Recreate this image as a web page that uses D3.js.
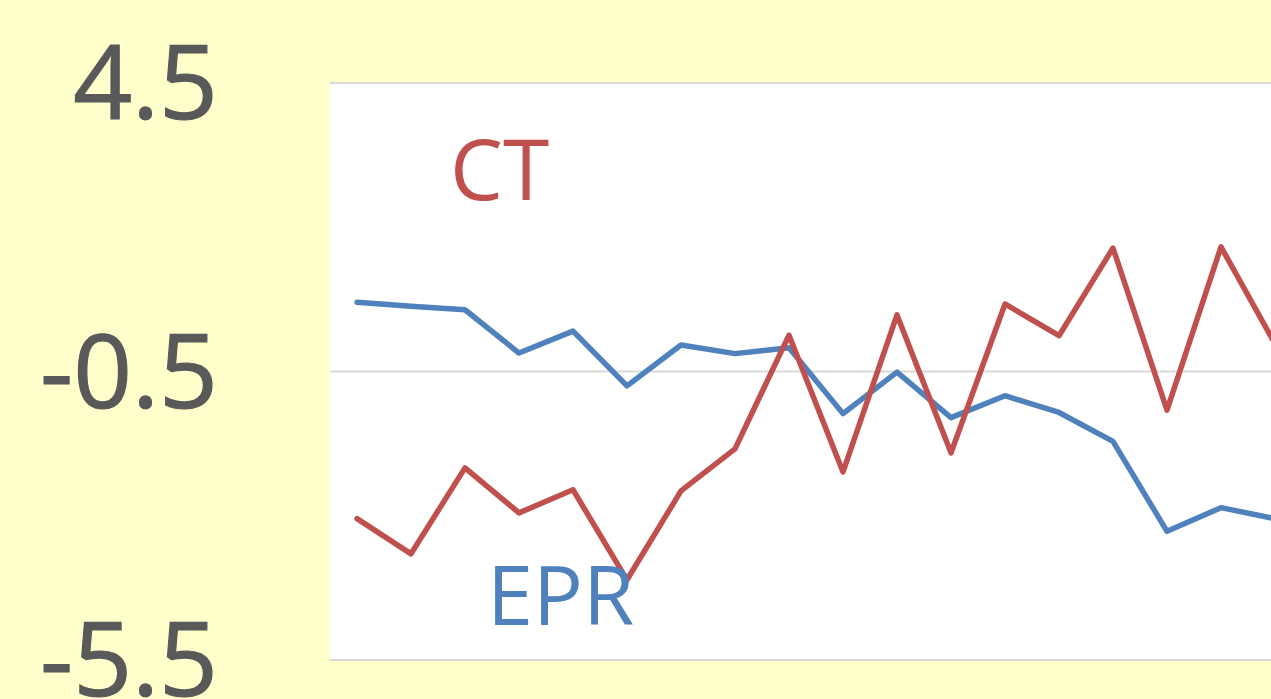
<!DOCTYPE html>
<html><head><meta charset="utf-8">
<script src="https://cdn.jsdelivr.net/npm/d3@7/dist/d3.min.js"></script>
<style>html,body{margin:0;padding:0;background:#FFFFCC;overflow:hidden}</style>
</head><body>
<svg id="c" width="1271" height="699"></svg>
<script>
const categories = ["1","2","3","4","5","6","7","8","9","10","11","12","13","14","15","16","17","18"];
const eprValues = [0.70,0.63,0.57,-0.18,0.20,-0.75,-0.04,-0.19,-0.09,-1.23,-0.51,-1.30,-0.92,-1.21,-1.71,-3.27,-2.86,-3.05];
const ctValues  = [-3.05,-3.66,-2.17,-2.95,-2.55,-4.11,-2.57,-1.84,0.13,-2.24,0.48,-1.91,0.67,0.12,1.64,-1.17,1.66,-0.02];
const yTicks = [4.5,-0.5,-5.5];
const tickLabels = ["4.5","-0.5","-5.5"];
const seriesNames = ["EPR","CT"];

const svg = d3.select("#c");
const W = 1271, H = 699;
svg.append("rect").attr("width",W).attr("height",H).attr("fill","#FFFFCC");

const pLeft = 330, pRight = 1302, pTop = 83, pBottom = 660;
const x = d3.scalePoint().domain(categories).range([pLeft,pRight]).padding(0.5);
const y = d3.scaleLinear().domain([-5.5,4.5]).range([pBottom,pTop]);

svg.append("rect").attr("x",pLeft).attr("y",pTop).attr("width",pRight-pLeft).attr("height",pBottom-pTop).attr("fill","#FFFFFF");

svg.append("g").selectAll("line").data(yTicks).join("line")
  .attr("x1",pLeft).attr("x2",pRight)
  .attr("y1",d=>y(d)).attr("y2",d=>y(d))
  .attr("stroke","#D9D9D9").attr("stroke-width",2);

svg.append("g").selectAll("text").data(yTicks).join("text")
  .attr("x",218).attr("y",d=>y(d)+36)
  .attr("text-anchor","end")
  .attr("font-family","Open Sans")
  .attr("font-size",103)
  .attr("fill","#595959")
  .attr("stroke","#595959").attr("stroke-width",1.2)
  .text((d,i)=>tickLabels[i]);

const line = d3.line().x((d,i)=>x(categories[i])).y(d=>y(d));
svg.append("path").datum(eprValues).attr("d",line)
  .attr("fill","none").attr("stroke","#4F81BD").attr("stroke-width",5.5)
  .attr("stroke-linejoin","round").attr("stroke-linecap","round");
svg.append("path").datum(ctValues).attr("d",line)
  .attr("fill","none").attr("stroke","#C0504D").attr("stroke-width",5.5)
  .attr("stroke-linejoin","round").attr("stroke-linecap","round");

svg.append("text").attr("x",450).attr("y",200)
  .attr("font-family","Open Sans").attr("font-size",84).attr("fill","#C0504D").text(seriesNames[1]);
svg.append("text").attr("x",487).attr("y",625)
  .attr("font-family","Open Sans").attr("font-size",83).attr("fill","#4F81BD").text(seriesNames[0]);
</script>
</body></html>
